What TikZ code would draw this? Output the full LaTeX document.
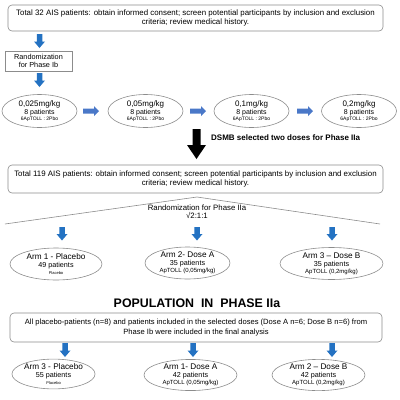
\documentclass[tikz,border=0pt]{standalone}
\usepackage{fontspec}
\setmainfont{Liberation Sans}
\usetikzlibrary{shapes.geometric,calc}
\definecolor{linegray}{HTML}{8C8C8C}
\definecolor{downblue}{HTML}{2472C2}
\definecolor{rightblue}{HTML}{4A78C8}
\newcommand\fsz[2]{\fontsize{#1}{#2}\selectfont}
\newcommand\ellt[5]{{\fsz{#1}{#1}#2}\\{#3}\\[-1.5pt]{\fsz{#4}{#4}#5}}
\tikzset{
  bigbox/.style={draw=linegray, line width=0.6pt, rounded corners=4pt, align=center,
    inner sep=0pt, minimum width=375pt, minimum height=27pt, font=\fsz{7.9}{9.5}},
  randbox/.style={draw=linegray, line width=0.6pt, align=center, inner sep=0pt,
    minimum width=67pt, minimum height=20pt, font=\fsz{7.3}{8.5}},
  doseell/.style={draw=linegray, line width=0.6pt, ellipse, align=center, inner sep=0pt,
    minimum width=75pt, minimum height=33pt, font=\fsz{7}{8}},
  armell/.style={draw=linegray, line width=0.6pt, ellipse, align=center, inner sep=0pt,
    minimum width=#1, minimum height=32pt, font=\fsz{7.2}{8.3}},
  pics/varrow/.style n args={4}{code={
    \fill (-#2/2,0) -- (#2/2,0) -- (#2/2,#3-#4) -- (#1/2,#3-#4) -- (0,#3)
      -- (-#1/2,#3-#4) -- (-#2/2,#3-#4) -- cycle;}},
  pics/harrow/.style n args={4}{code={
    \fill (0,-#2/2) -- (0,#2/2) -- (#3-#4,#2/2) -- (#3-#4,#1/2) -- (#3,0)
      -- (#3-#4,-#1/2) -- (#3-#4,-#2/2) -- cycle;}},
  tri/.style={draw=linegray, line width=0.6pt},
}
\begin{document}
\begin{tikzpicture}[x=1pt,y=-1pt]
\useasboundingbox (0,0) rectangle (400,400);
% top box
\node[bigbox, minimum height=26pt] (top) at (195.5,18) {Total 32 AIS patients: obtain informed consent; screen potential participants by inclusion and exclusion\\criteria; review  medical history.};
\coordinate (a1) at (39.5,34);
\pic[color=downblue] at (a1) {varrow={11}{5.5}{14}{6.5}};
\node[randbox] (rand) at (38.5,61) {Randomization\\for Phase Ib};
\coordinate (a2) at (39.5,73);
\pic[color=downblue] at (a2) {varrow={11}{5.5}{14}{6.5}};
% dose ellipses
\node[doseell] (d1) at (39.5,111) {\ellt{8}{0,025mg/kg}{8 patients}{5}{6ApTOLL\ :\ 2Pbo}};
\node[doseell] (d2) at (145.5,111) {\ellt{8}{0,05mg/kg}{8 patients}{5}{6ApTOLL\ :\ 2Pbo}};
\node[doseell] (d3) at (251.5,111) {\ellt{8}{0,1mg/kg}{8 patients}{5}{6ApTOLL\ :\ 2Pbo}};
\node[doseell] (d4) at (359,111) {\ellt{8}{0,2mg/kg}{8 patients}{5}{6ApTOLL\ :\ 2Pbo}};
\coordinate (r1) at (83,111);
\coordinate (r2) at (190,111);
\coordinate (r3) at (297,111);
\pic[color=rightblue] at (r1) {harrow={10}{5}{16}{5}};
\pic[color=rightblue] at (r2) {harrow={10}{5}{16}{5}};
\pic[color=rightblue] at (r3) {harrow={10}{5}{16}{5}};
% DSMB
\coordinate (ba) at (196.5,129);
\pic[color=black] at (ba) {varrow={19}{8}{30}{14}};
\node[anchor=west, font=\bfseries\fsz{8}{9}, inner sep=0pt] (dsmb) at (211,138) {DSMB selected two doses for Phase IIa};
% second box
\node[bigbox, minimum height=28pt] (mid) at (195.5,179) {Total 119 AIS patients: obtain informed consent; screen potential participants by inclusion and exclusion\\criteria; review  medical history.};
% triangle
\coordinate (tl) at (5,224);
\coordinate (ta) at (197,197);
\coordinate (tr) at (380,224);
\draw[tri] (tl) -- (ta) -- (tr);
\node[align=center, font=\fsz{7.8}{8}, inner sep=0pt] (randII) at (197,211.5) {Randomization for Phase IIa\\√2:1:1};
\coordinate (b1) at (62,227);
\coordinate (b2) at (197,227);
\coordinate (b3) at (332,227);
\foreach \p in {b1,b2,b3} \pic[color=downblue] at (\p) {varrow={11}{5.5}{13.5}{6.5}};
\node[armell=92pt] (e1) at (56,264) {\ellt{8.2}{Arm 1 - Placebo}{49 patients}{4}{Placebo}};
\node[armell=85pt] (e2) at (187.5,263) {\ellt{8.2}{Arm 2- Dose A}{35 patients}{6}{ApTOLL (0,05mg/kg)}};
\node[armell=103pt] (e3) at (331.5,263.5) {\ellt{8.2}{Arm 3 – Dose B}{35 patients}{6}{ApTOLL (0,2mg/kg)}};
% population
\node[font=\bfseries\fsz{12.4}{13}, inner sep=0pt] (pop) at (197,303) {POPULATION\ \ IN\ \ PHASE IIa};
\node[bigbox, minimum width=372pt, minimum height=29pt, font=\fsz{7.6}{9.5}] (bot) at (196,327.5) {All placebo-patients (n=8) and patients included in the selected doses (Dose A n=6; Dose B n=6) from\\Phase Ib were included in the final analysis};
\coordinate (c1) at (65,343);
\coordinate (c2) at (193,343);
\coordinate (c3) at (332,343);
\foreach \p in {c1,c2,c3} \pic[color=downblue] at (\p) {varrow={11}{5.5}{14}{6.5}};
\node[armell=83pt, minimum height=28pt] (f1) at (53.5,374) {\ellt{8.2}{Arm 3 - Placebo}{55 patients}{4}{Placebo}};
\node[armell=93pt, minimum height=30pt] (f2) at (190.5,375) {\ellt{8.2}{Arm 1- Dose A}{42 patients}{6}{ApTOLL (0,05mg/kg)}};
\node[armell=93pt, minimum height=30pt] (f3) at (318.5,375) {\ellt{8.2}{Arm 2 – Dose B}{42 patients}{6}{ApTOLL (0,2mg/kg)}};
\end{tikzpicture}
\end{document}
